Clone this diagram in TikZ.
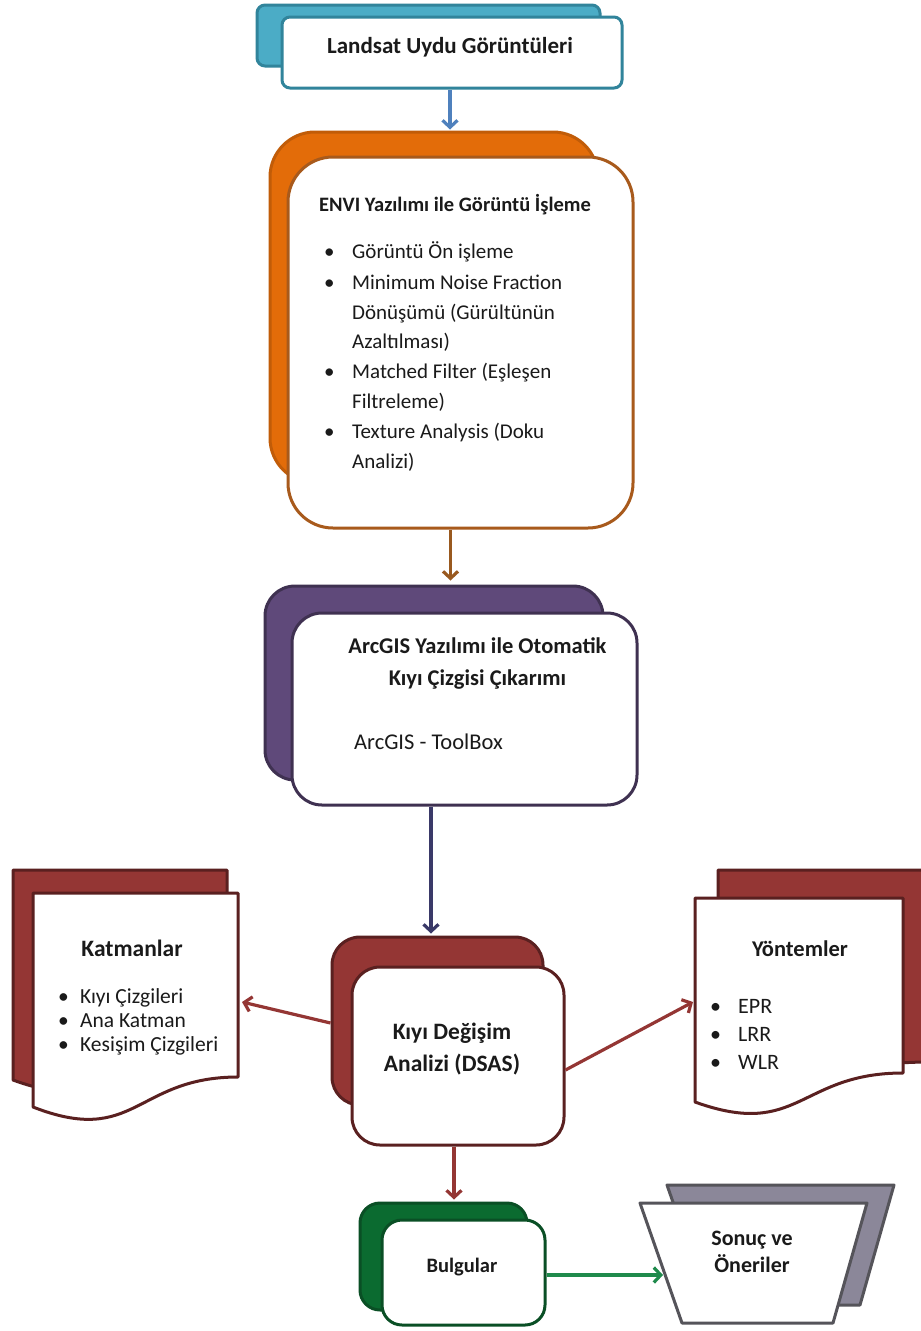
\documentclass[tikz,border=0pt]{standalone}
\usepackage{fontspec}
\setmainfont{Carlito}
\usetikzlibrary{arrows.meta,calc}
\definecolor{tealF}{HTML}{4BACC6}
\definecolor{tealD}{HTML}{31849B}
\definecolor{orF}{HTML}{E36C09}
\definecolor{orD}{HTML}{A85A1C}
\definecolor{puF}{HTML}{5F497A}
\definecolor{puD}{HTML}{3F3151}
\definecolor{rdF}{HTML}{943634}
\definecolor{rdD}{HTML}{5A2020}
\definecolor{grF}{HTML}{0B6B30}
\definecolor{grD}{HTML}{0A4F25}
\definecolor{gyF}{HTML}{8B8799}
\definecolor{gyD}{HTML}{55545A}
\definecolor{arBlue}{HTML}{4F81BD}
\definecolor{arBrown}{HTML}{99591F}
\definecolor{arNavy}{HTML}{3A3968}
\definecolor{arRed}{HTML}{943634}
\definecolor{arGreen}{HTML}{1F8A4C}
\definecolor{txt}{HTML}{1A1A1A}
\newcommand{\fsz}[2]{\fontsize{#1}{#2}\selectfont}
\tikzset{
  box/.style={draw, line width=3pt, inner sep=0pt, rectangle},
  shp/.style={line width=3pt},
  conn/.style={line width=3.2pt, -{Straight Barb[length=7pt,width=15pt]}},
  ttl/.style={text=txt, inner sep=0pt, align=center},
  itm/.style={text=txt, inner sep=0pt, anchor=base west},
}
\begin{document}
\begin{tikzpicture}[x=1pt,y=-1pt,line join=round]
\useasboundingbox (0,0) rectangle (921,1331);
\fill[white] (0,0) rectangle (921,1331);

% Landsat
\node[box, rounded corners=8pt, fill=tealF, draw=tealD, minimum width=343pt, minimum height=61pt] (landB) at (428.5,35.5) {};
\node[box, rounded corners=8pt, fill=white, draw=tealD, minimum width=340pt, minimum height=71pt] (landF) at (452,52.5) {};
\node[ttl, font=\fsz{23}{26}\bfseries] (landT) at (450,47) {Landsat Uydu Görüntüleri};

% ENVI
\node[box, rounded corners=45pt, fill=orF, draw=orF!85!black, minimum width=328pt, minimum height=351pt] (envB) at (434,307.5) {};
\node[box, rounded corners=45pt, fill=white, draw=orD, minimum width=345pt, minimum height=371pt] (envF) at (460.5,342.5) {};
\node[ttl, font=\fsz{20.5}{24}\bfseries] (envT) at (455,205) {ENVI Yazılımı ile Görüntü İşleme};
\foreach \n/\y/\b/\t in {1/252/1/Görüntü Ön işleme, 2/283/1/Minimum Noise Fraction, 3/313/0/Dönüşümü (Gürültünün, 4/342/0/Azaltılması), 5/372/1/Matched Filter (Eşleşen, 6/402/0/Filtreleme), 7/432/1/Texture Analysis (Doku, 8/462/0/Analizi)}{
  \node[itm, font=\fsz{21}{24}] (envI\n) at (352,\y+6.5) {\t};
  \ifnum\b=1 \node[itm, font=\fsz{21}{24}] (envBu\n) at (324,\y+6.5) {•}; \fi
}

% ArcGIS
\node[box, rounded corners=30pt, fill=puF, draw=puD, minimum width=338pt, minimum height=194pt] (arcB) at (434,683) {};
\node[box, rounded corners=30pt, fill=white, draw=puD, minimum width=345pt, minimum height=192pt] (arcF) at (464.5,709) {};
\node[ttl, font=\fsz{22.5}{26}\bfseries] (arcT1) at (477.5,646) {ArcGIS Yazılımı ile Otomatik};
\node[ttl, font=\fsz{22.5}{26}\bfseries] (arcT2) at (477.5,680) {Kıyı Çizgisi Çıkarımı};
\node[itm, font=\fsz{22.5}{26}] (arcI) at (354,749) {ArcGIS - ToolBox};

% DSAS
\node[box, rounded corners=28pt, fill=rdF, draw=rdD, minimum width=211pt, minimum height=168pt] (dsasB) at (437.5,1021) {};
\node[box, rounded corners=28pt, fill=white, draw=rdD, minimum width=212pt, minimum height=178pt] (dsasF) at (458,1056) {};
\node[ttl, font=\fsz{23.5}{32}\bfseries] (dsasT) at (452,1049) {Kıyı Değişim\\Analizi (DSAS)};

% Katmanlar document
\fill[rdF, draw=rdD, shp] (13,870) -- (227,870) -- (227,1050) .. controls (120,1050) and (120,1119) .. (13,1080) -- cycle;
\filldraw[fill=white, draw=rdD, shp] (33,893) -- (238,893) -- (238,1077) .. controls (135.5,1077) and (135.5,1147) .. (33,1107) -- cycle;
\coordinate (katR) at (242,1002);
\node[ttl, font=\fsz{23.5}{26}\bfseries] (katT) at (132,948) {Katmanlar};
\foreach \n/\y/\t in {1/997/Kıyı Çizgileri, 2/1021/Ana Katman, 3/1045/Kesişim Çizgileri}{
  \node[itm, font=\fsz{21.5}{24}] (katI\n) at (80,\y+6) {\t};
  \node[itm, font=\fsz{21.5}{24}] (katB\n) at (58,\y+6) {•};
}

% Yöntemler document
\fill[rdF, draw=rdD, shp] (718,870) -- (930,870) -- (930,1062) .. controls (824,1062) and (824,1095) .. (718,1070) -- cycle;
\filldraw[fill=white, draw=rdD, shp] (695,898) -- (903,898) -- (903,1073) .. controls (799,1073) and (799,1139.5) .. (695,1102) -- cycle;
\coordinate (yonL) at (693,1002);
\node[ttl, font=\fsz{22.5}{26}\bfseries] (yonT) at (800,949) {Yöntemler};
\foreach \n/\y/\t in {1/1006/EPR, 2/1034/LRR, 3/1062/WLR}{
  \node[itm, font=\fsz{22}{24}] (yonI\n) at (738,\y+7) {\t};
  \node[itm, font=\fsz{22}{24}] (yonB\n) at (710,\y+7) {•};
}

% Bulgular
\node[box, rounded corners=20pt, fill=grF, draw=grD, minimum width=167pt, minimum height=107pt] (bulB) at (443.5,1256.5) {};
\node[box, rounded corners=20pt, fill=white, draw=grD, minimum width=163pt, minimum height=105pt] (bulF) at (463.5,1272.5) {};
\node[ttl, font=\fsz{20.5}{24}\bfseries] (bulT) at (462,1267) {Bulgular};

% Sonuç ve Öneriler
\filldraw[fill=gyF, draw=gyD, shp] (667,1185) -- (894,1185) -- (860,1305) -- (709,1305) -- cycle;
\filldraw[fill=white, draw=gyD, shp] (640,1203) -- (867,1203) -- (833,1323) -- (682,1323) -- cycle;
\coordinate (sonL) at (663,1275);
\node[ttl, font=\fsz{22}{27}\bfseries] (sonT) at (752,1252) {Sonuç ve\\Öneriler};

% connectors
\draw[conn, arBlue] (landF.south -| landT) -- ([yshift=1pt]landT |- envB.north);
\draw[conn, arBrown] ([xshift=-10pt]envF.south) -- ([xshift=-10pt,yshift=4pt]envF.south |- arcB.north);
\draw[conn, arNavy] ([xshift=-33.5pt]arcF.south) -- ([xshift=-33.5pt,yshift=2pt]arcF.south |- dsasB.north);
\draw[conn, arRed] ([yshift=-2pt]dsasB.west) -- (katR);
\draw[conn, arRed] ([yshift=-14pt]dsasF.east) -- (yonL);
\draw[conn, arRed] ([xshift=-4pt]dsasF.south) -- ([xshift=-4pt,yshift=2pt]dsasF.south |- bulB.north);
\draw[conn, arGreen] ([yshift=-2.5pt]bulF.east) -- (sonL);
\end{tikzpicture}
\end{document}
